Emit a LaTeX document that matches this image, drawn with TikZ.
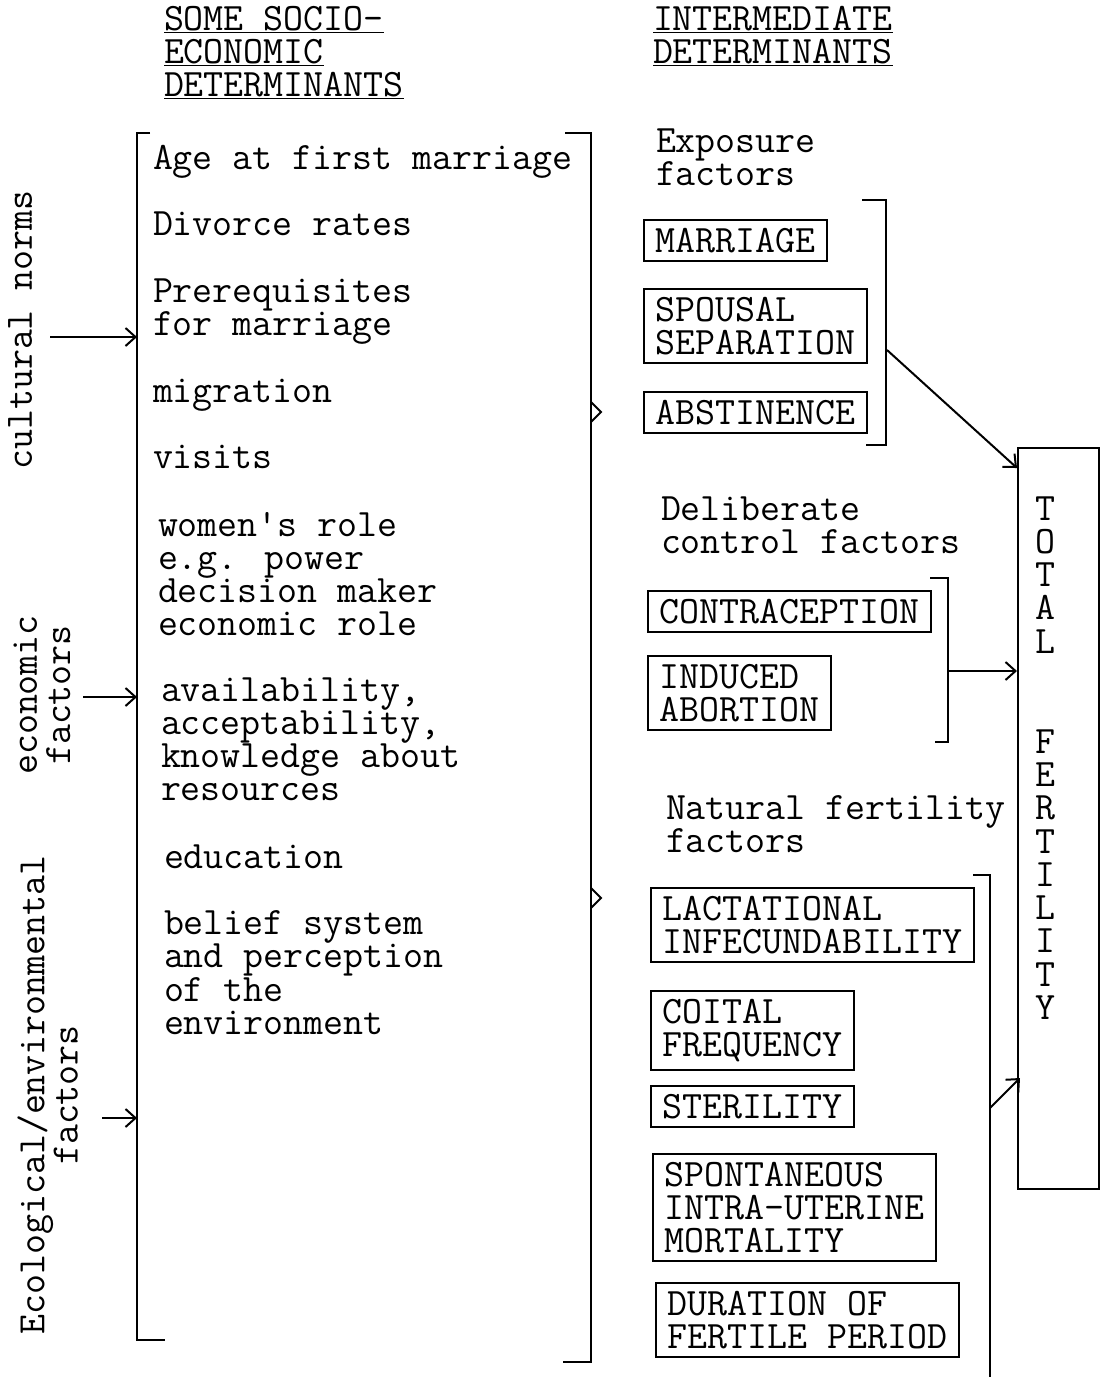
\documentclass[tikz,border=0pt]{standalone}
\usepackage{fontspec}
\usetikzlibrary{arrows.meta}
\newcommand\tw{\fontsize{38.8pt}{33.3pt}\selectfont\ttfamily\lineskiplimit=-50pt}
\newcommand\tstr{\rule{0pt}{24pt}}
\begin{document}
\begin{tikzpicture}[x=1pt,y=-1pt,line width=2pt,
  every node/.style={font=\tw,inner sep=0pt,align=left},
  txt/.style={anchor=north west},
  fbox/.style={draw,anchor=north west,inner xsep=11.5pt,inner ysep=8pt},
  side/.style={rotate=90,align=center},
  feed/.style={-{Straight Barb[length=10pt,width=18pt]}}]
\useasboundingbox (0,0) rectangle (1102,1377);
% headings
\node[txt] (hsoc) at (163,5) {\tstr\underline{SOME SOCIO-}\\\underline{ECONOMIC}\\\underline{DETERMINANTS}};
\node[txt] (hint) at (652,5) {\tstr\underline{INTERMEDIATE}\\\underline{DETERMINANTS}};
% left column
\node[txt] (g1) at (152,144) {\tstr Age at first marriage\\[33.3pt]Divorce rates\\[33.3pt]Prerequisites\\for marriage\\[33.3pt]migration\\[33.3pt]visits};
\node[txt] (g2) at (157,511) {\tstr women's role\\e.g. power\\decision maker\\economic role};
\node[txt] (g3) at (160,676) {\tstr availability,\\acceptability,\\knowledge about\\resources};
\node[txt] (g4) at (163,843) {\tstr education\\[33.3pt]belief system\\and perception\\of the\\environment};
\coordinate (lb) at (137,133);
\draw (150,133) -- (lb) -- (137,1340) -- (165,1340);
\coordinate (rb) at (591,133);
\draw (565,133) -- (rb) -- (591,1362) -- (563,1362);
\draw (591,402) -- (601,412) -- (591,422);
\draw (591,888) -- (601,898) -- (591,908);
% outside influences
\node[side] (cult) at (20,330) {\tstr cultural norms};
\node[side] (econ) at (41.7,695) {\tstr economic\\factors};
\node[side] (ecol) at (47.7,1095) {\tstr Ecological/environmental\\factors};
\coordinate (cn) at (50,337);
\coordinate (ef) at (83,697);
\coordinate (eo) at (102,1118);
\draw[feed] (cn) -- (cn -| lb);
\draw[feed] (ef) -- (ef -| lb);
\draw[feed] (eo) -- (eo -| lb);
% exposure factors
\node[txt] (expo) at (655,127) {\tstr Exposure\\factors};
\node[fbox] (marr) at (643,219) {\tstr MARRIAGE};
\node[fbox] (spou) at (643,288) {\tstr SPOUSAL\\SEPARATION};
\node[fbox] (abst) at (643,391) {\tstr ABSTINENCE};
\draw (862,200) -- (886,200) -- (886,445) -- (866,445);
% deliberate control factors
\node[txt] (deli) at (660,495) {\tstr Deliberate\\control factors};
\node[fbox] (cont) at (647,590) {\tstr CONTRACEPTION};
\node[fbox] (indu) at (647,655) {\tstr INDUCED\\ABORTION};
\draw (930,578) -- (948,578) -- (948,742) -- (935,742);
% natural fertility factors
\node[txt] (natu) at (665,794) {\tstr Natural fertility\\factors};
\node[fbox] (lact) at (650,887) {\tstr LACTATIONAL\\INFECUNDABILITY};
\node[fbox] (coit) at (650,990) {\tstr COITAL\\FREQUENCY};
\node[fbox] (ster) at (650,1085) {\tstr STERILITY};
\node[fbox] (spon) at (652,1153) {\tstr SPONTANEOUS\\INTRA-UTERINE\\MORTALITY};
\node[fbox] (dura) at (655,1282) {\tstr DURATION OF\\FERTILE PERIOD};
\draw (973,875) -- (990,875) -- (990,1377);
% total fertility
\node[draw,anchor=north west,minimum width=81pt,minimum height=741pt] (tf) at (1017,447) {};
\node[anchor=north,align=center] (tftxt) at (1045,495) {\tstr T\\O\\T\\A\\L\\[66.6pt]F\\E\\R\\T\\I\\L\\I\\T\\Y};
\coordinate (eb) at (887,350);
\coordinate (eb2) at (1017,468);
\coordinate (db) at (948,671);
\coordinate (nb) at (990,1108);
\coordinate (nb2) at (1020,1078);
\draw[feed] (eb) -- (eb2);
\draw[feed] (db) -- (db -| tf.west);
\draw[feed] (nb) -- (nb2);
\end{tikzpicture}
\end{document}
